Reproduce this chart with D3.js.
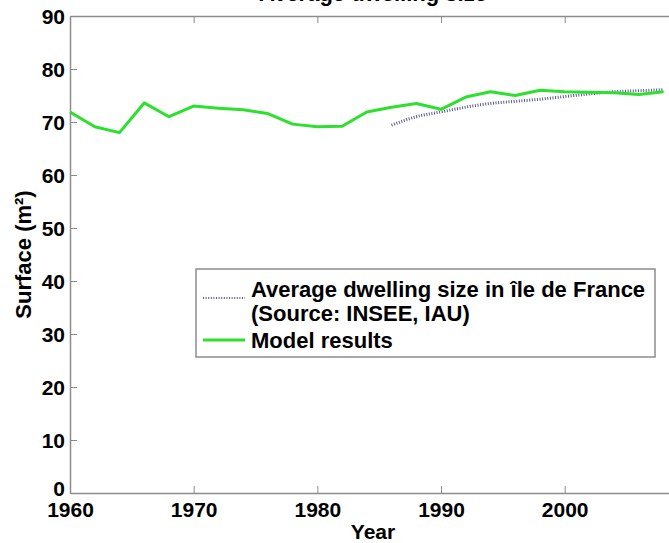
<!DOCTYPE html>
<html>
<head>
<meta charset="utf-8">
<title>Average dwelling size</title>
<script src="https://cdn.jsdelivr.net/npm/d3@7"></script>
<style>
  body { margin: 0; background: #fff; }
  svg { display: block; font-family: "Liberation Sans", Arial, sans-serif; font-weight: bold; }
</style>
</head>
<body>
<script>
// model results (green line)
var modelYears = [1960, 1962, 1964, 1966, 1968, 1970, 1972, 1974, 1976, 1978, 1980, 1982, 1984,
                  1986, 1988, 1990, 1992, 1994, 1996, 1998, 2000, 2002, 2004, 2006, 2008];
var modelValues = [71.9, 69.1, 68.0, 73.6, 71.0, 73.0, 72.6, 72.3, 71.6, 69.6, 69.1, 69.2, 71.9,
                   72.8, 73.5, 72.4, 74.7, 75.7, 75.0, 76.0, 75.7, 75.6, 75.5, 75.2, 75.7];
// observed average dwelling size (dotted line)
var obsYears = [1986, 1988, 1990, 1992, 1994, 1996, 1998, 2000, 2002, 2004, 2006, 2008];
var obsValues = [69.4, 71.0, 71.9, 72.8, 73.5, 73.9, 74.3, 74.8, 75.3, 75.7, 75.9, 76.1];

var xTicks = [1960, 1970, 1980, 1990, 2000];
var yTicks = [0, 10, 20, 30, 40, 50, 60, 70, 80, 90];
var legendLabels = [["Average dwelling size in île de France", "(Source: INSEE, IAU)"], ["Model results"]];

var W = 669, H = 543;
var pLeft = 70, pRight = 676, pTop = 16, pBottom = 493;

var svg = d3.select("body").append("svg")
    .attr("width", W)
    .attr("height", H);

var x = d3.scaleLinear().domain([1960, 2009]).range([pLeft, pRight]);
var y = d3.scaleLinear().domain([0, 90]).range([pBottom, pTop]);

var axisColor = "#8c8c8c";

// title (mostly cut off at the top)
svg.append("text")
    .attr("x", (pLeft + pRight) / 2)
    .attr("y", 1)
    .attr("text-anchor", "middle")
    .style("font-size", "22px")
    .text("Average dwelling size");

// axes: box with inward ticks
var xb = d3.axisBottom(x).tickValues(xTicks).tickSizeInner(-7).tickSizeOuter(0).tickFormat(d3.format("d"));
var xt = d3.axisTop(x).tickValues(xTicks).tickSizeInner(-7).tickSizeOuter(0).tickFormat("");
var yl = d3.axisLeft(y).tickValues(yTicks).tickSizeInner(-7).tickSizeOuter(0);
var yr = d3.axisRight(y).tickValues(yTicks).tickSizeInner(-7).tickSizeOuter(0).tickFormat("");

function styleAxis(g) {
  g.select(".domain").attr("stroke", axisColor).attr("stroke-width", 1.5);
  g.selectAll(".tick line").attr("stroke", axisColor).attr("stroke-width", 1);
  g.selectAll(".tick text").attr("fill", "#000").style("font-size", "21px").style("font-weight", "bold")
      .style("font-family", "'Liberation Sans', Arial, sans-serif");
}

svg.append("g").attr("transform", "translate(0," + pBottom + ")").call(xb).call(styleAxis)
    .selectAll(".tick text").attr("y", 9).attr("dy", "0.71em");
svg.append("g").attr("transform", "translate(0," + pTop + ")").call(xt).call(styleAxis);
svg.append("g").attr("transform", "translate(" + pLeft + ",0)").call(yl).call(styleAxis)
    .selectAll(".tick text").attr("x", -5)
    .attr("dy", function(d){ return d === 0 ? "0.1em" : "0.36em"; });
svg.append("g").attr("transform", "translate(" + pRight + ",0)").call(yr).call(styleAxis);

// axis labels
svg.append("text")
    .attr("x", (pLeft + pRight) / 2)
    .attr("y", 539)
    .attr("text-anchor", "middle")
    .style("font-size", "21px")
    .text("Year");

svg.append("text")
    .attr("transform", "translate(31," + ((pTop + pBottom) / 2) + ") rotate(-90)")
    .attr("text-anchor", "middle")
    .style("font-size", "22px")
    .text("Surface (m²)");

// lines
var obsData = obsYears.map(function(d, i){ return [d, obsValues[i]]; });
var modelData = modelYears.map(function(d, i){ return [d, modelValues[i]]; });

var obsLine = d3.line()
    .x(function(d){ return x(d[0]); })
    .y(function(d){ return y(d[1]); })
    .curve(d3.curveMonotoneX);
var modelLine = d3.line()
    .x(function(d){ return x(d[0]); })
    .y(function(d){ return y(d[1]); });

var obsColor = "#56568e";
var modelColor = "#2ee02e";

svg.append("path")
    .datum(obsData)
    .attr("d", obsLine)
    .attr("fill", "none")
    .attr("stroke", obsColor)
    .attr("stroke-width", 3)
    .attr("stroke-dasharray", "1,1.6");

svg.append("path")
    .datum(modelData)
    .attr("d", modelLine)
    .attr("fill", "none")
    .attr("stroke", modelColor)
    .attr("stroke-width", 3)
    .attr("stroke-linejoin", "round");

// legend
var lg = svg.append("g");
lg.append("rect")
    .attr("x", 196).attr("y", 269)
    .attr("width", 459).attr("height", 88)
    .attr("fill", "#fff")
    .attr("stroke", axisColor)
    .attr("stroke-width", 1.5);

var legendRows = [
  { color: obsColor, dash: "1,1.6", width: 2, ly: 298, lines: legendLabels[0], ty: [297, 321] },
  { color: modelColor, dash: null, width: 3, ly: 340, lines: legendLabels[1], ty: [348] }
];
legendRows.forEach(function(r){
  lg.append("line")
      .attr("x1", 203).attr("x2", 245)
      .attr("y1", r.ly).attr("y2", r.ly)
      .attr("stroke", r.color)
      .attr("stroke-width", r.width)
      .attr("stroke-dasharray", r.dash);
  r.lines.forEach(function(t, i){
    lg.append("text")
        .attr("x", 251).attr("y", r.ty[i])
        .style("font-size", "22px")
        .text(t);
  });
});
</script>
</body>
</html>
